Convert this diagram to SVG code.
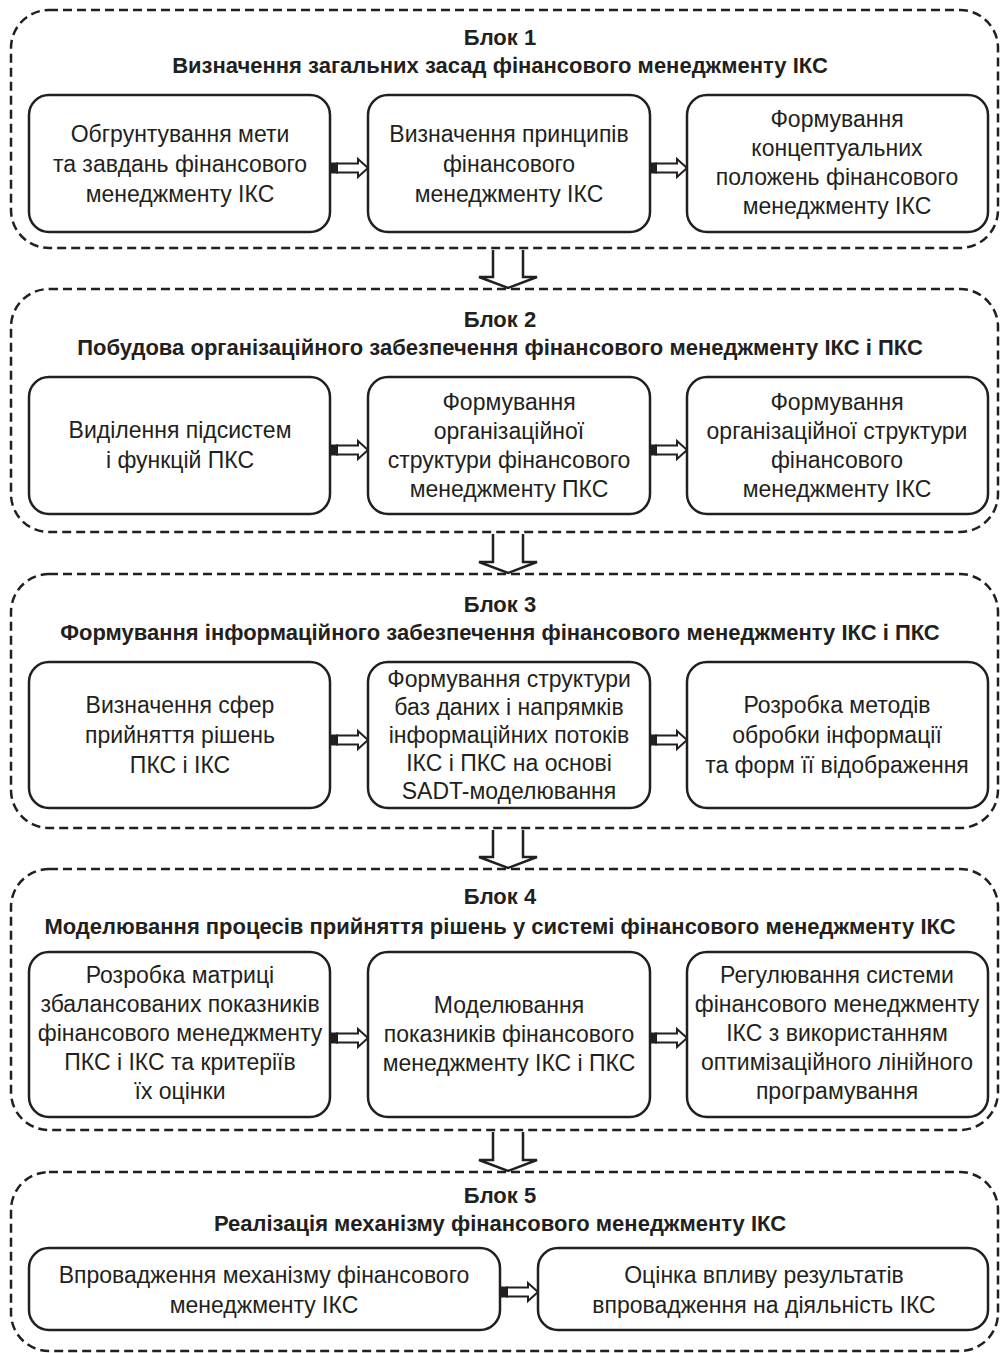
<svg xmlns="http://www.w3.org/2000/svg" width="1000" height="1353" viewBox="0 0 1000 1353">
<style>
.blk{fill:none;stroke:#231f20;stroke-width:2.5;stroke-dasharray:9 5}
.box{fill:#fff;stroke:#231f20;stroke-width:2.5}
.t{font-family:"Liberation Sans",Arial,sans-serif;font-size:23px;fill:#231f20;text-anchor:middle}
.h{font-family:"Liberation Sans",Arial,sans-serif;font-size:22px;font-weight:bold;fill:#231f20;text-anchor:middle}
.dn{fill:#fff;stroke:#231f20;stroke-width:2.5;stroke-linejoin:miter}
</style>
<defs>
<g id="ra">
<rect x="0" y="-5.5" width="7" height="11" fill="#231f20"/>
<path d="M6,-4.5 H27 V-9 L37,0 L27,9 V4.5 H6 Z" fill="#fff" stroke="#231f20" stroke-width="2"/>
</g>
</defs>
<rect width="1000" height="1353" fill="#fff"/>

<g id="connectors">
<path class="dn" d="M493,250 V277 H479 L508,288 L537,277 H523 V250"/>
<path class="dn" d="M493,534 V562 H479 L508,573 L537,562 H523 V534"/>
<path class="dn" d="M493,830 V857 H479 L508,868 L537,857 H523 V830"/>
<path class="dn" d="M493,1132 V1160 H479 L508,1171 L537,1160 H523 V1132"/>
<use href="#ra" x="331" y="168"/>
<use href="#ra" x="650" y="168"/>
<use href="#ra" x="331" y="450"/>
<use href="#ra" x="650" y="450"/>
<use href="#ra" x="331" y="740"/>
<use href="#ra" x="650" y="740"/>
<use href="#ra" x="331" y="1038"/>
<use href="#ra" x="650" y="1038"/>
<use href="#ra" x="501" y="1292"/>
</g>

<g id="block1">
<rect class="blk" x="11" y="10" width="987" height="238" rx="38" ry="38"/>
<text class="h" x="500" y="45">Блок 1</text>
<text class="h" x="500" y="73">Визначення загальних засад фінансового менеджменту ІКС</text>
</g>
<g id="b1n1"><rect class="box" x="29" y="95" width="301" height="137" rx="20"/>
<text class="t" x="180" y="142">Обгрунтування мети</text>
<text class="t" x="180" y="172">та завдань фінансового</text>
<text class="t" x="180" y="202">менеджменту ІКС</text></g>
<g id="b1n2"><rect class="box" x="368" y="95" width="282" height="137" rx="20"/>
<text class="t" x="509" y="142">Визначення принципів</text>
<text class="t" x="509" y="172">фінансового</text>
<text class="t" x="509" y="202">менеджменту ІКС</text></g>
<g id="b1n3"><rect class="box" x="687" y="95" width="301" height="137" rx="20"/>
<text class="t" x="837" y="127">Формування</text>
<text class="t" x="837" y="156">концептуальних</text>
<text class="t" x="837" y="185">положень фінансового</text>
<text class="t" x="837" y="214">менеджменту ІКС</text></g>

<g id="block2">
<rect class="blk" x="11" y="289" width="987" height="243" rx="38" ry="38"/>
<text class="h" x="500" y="327">Блок 2</text>
<text class="h" x="500" y="355">Побудова організаційного забезпечення фінансового менеджменту ІКС і ПКС</text>
</g>
<g id="b2n1"><rect class="box" x="29" y="377" width="301" height="137" rx="20"/>
<text class="t" x="180" y="438">Виділення підсистем</text>
<text class="t" x="180" y="468">і функцій ПКС</text></g>
<g id="b2n2"><rect class="box" x="368" y="377" width="282" height="137" rx="20"/>
<text class="t" x="509" y="410">Формування</text>
<text class="t" x="509" y="439">організаційної</text>
<text class="t" x="509" y="468">структури фінансового</text>
<text class="t" x="509" y="497">менеджменту ПКС</text></g>
<g id="b2n3"><rect class="box" x="687" y="377" width="301" height="137" rx="20"/>
<text class="t" x="837" y="410">Формування</text>
<text class="t" x="837" y="439">організаційної структури</text>
<text class="t" x="837" y="468">фінансового</text>
<text class="t" x="837" y="497">менеджменту ІКС</text></g>

<g id="block3">
<rect class="blk" x="11" y="574" width="987" height="254" rx="38" ry="38"/>
<text class="h" x="500" y="612">Блок 3</text>
<text class="h" x="500" y="640">Формування інформаційного забезпечення фінансового менеджменту ІКС і ПКС</text>
</g>
<g id="b3n1"><rect class="box" x="29" y="662" width="301" height="146" rx="20"/>
<text class="t" x="180" y="713">Визначення сфер</text>
<text class="t" x="180" y="743">прийняття рішень</text>
<text class="t" x="180" y="773">ПКС і ІКС</text></g>
<g id="b3n2"><rect class="box" x="368" y="662" width="282" height="146" rx="20"/>
<text class="t" x="509" y="687">Формування структури</text>
<text class="t" x="509" y="715">баз даних і напрямків</text>
<text class="t" x="509" y="743">інформаційних потоків</text>
<text class="t" x="509" y="771">ІКС і ПКС на основі</text>
<text class="t" x="509" y="799">SADT-моделювання</text></g>
<g id="b3n3"><rect class="box" x="687" y="662" width="301" height="146" rx="20"/>
<text class="t" x="837" y="713">Розробка методів</text>
<text class="t" x="837" y="743">обробки інформації</text>
<text class="t" x="837" y="773">та форм її відображення</text></g>

<g id="block4">
<rect class="blk" x="11" y="869" width="987" height="261" rx="38" ry="38"/>
<text class="h" x="500" y="904">Блок 4</text>
<text class="h" x="500" y="934">Моделювання процесів прийняття рішень у системі фінансового менеджменту ІКС</text>
</g>
<g id="b4n1"><rect class="box" x="29" y="952" width="301" height="165" rx="20"/>
<text class="t" x="180" y="983">Розробка матриці</text>
<text class="t" x="180" y="1012">збалансованих показників</text>
<text class="t" x="180" y="1041">фінансового менеджменту</text>
<text class="t" x="180" y="1070">ПКС і ІКС та критеріїв</text>
<text class="t" x="180" y="1099">їх оцінки</text></g>
<g id="b4n2"><rect class="box" x="368" y="952" width="282" height="165" rx="20"/>
<text class="t" x="509" y="1013">Моделювання</text>
<text class="t" x="509" y="1042">показників фінансового</text>
<text class="t" x="509" y="1071">менеджменту ІКС і ПКС</text></g>
<g id="b4n3"><rect class="box" x="687" y="952" width="301" height="165" rx="20"/>
<text class="t" x="837" y="983">Регулювання системи</text>
<text class="t" x="837" y="1012">фінансового менеджменту</text>
<text class="t" x="837" y="1041">ІКС з використанням</text>
<text class="t" x="837" y="1070">оптимізаційного лінійного</text>
<text class="t" x="837" y="1099">програмування</text></g>

<g id="block5">
<rect class="blk" x="11" y="1172" width="987" height="179" rx="38" ry="38"/>
<text class="h" x="500" y="1203">Блок 5</text>
<text class="h" x="500" y="1231">Реалізація механізму фінансового менеджменту ІКС</text>
</g>
<g id="b5n1"><rect class="box" x="29" y="1248" width="471" height="82" rx="20"/>
<text class="t" x="264" y="1283">Впровадження механізму фінансового</text>
<text class="t" x="264" y="1313">менеджменту ІКС</text></g>
<g id="b5n2"><rect class="box" x="538" y="1248" width="450" height="82" rx="20"/>
<text class="t" x="764" y="1283">Оцінка впливу результатів</text>
<text class="t" x="764" y="1313">впровадження на діяльність ІКС</text></g>
</svg>
